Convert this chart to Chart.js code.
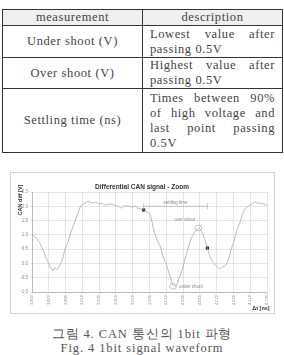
<!DOCTYPE html>
<html>
<head>
<meta charset="utf-8">
<script src="https://cdn.jsdelivr.net/npm/chart.js@4.4.1/dist/chart.umd.min.js"></script>
<style>
    body { margin: 0; width: 284px; height: 355px; overflow: hidden; background: #fff; position: relative; font-family: "Liberation Serif", serif; color: #444; }
    table.spec { position: absolute; left: 2px; top: 9px; width: 281px; border-collapse: collapse; font-size: 12.5px; letter-spacing: 0.6px; }
    table.spec td, table.spec th { border: 1px solid #333; padding: 0 7px; font-weight: normal; line-height: 15px; }
    table.spec th { background: #efefef; height: 15px; }
    table.spec td.name { text-align: center; width: 125px; }
    table.spec td.desc { text-align: justify; }
    .jl { display: block; text-align: justify; text-align-last: justify; }
    .chart-box { position: absolute; left: 10px; top: 172px; width: 265px; height: 142px; border: 1px solid #d4d4d4; box-sizing: border-box; }
    .caption { position: absolute; left: 0; width: 284px; text-align: center; font-size: 12.5px; color: #555; letter-spacing: 0.9px; }
</style>
</head>
<body>
<table class="spec">
    <tr><th>measurement</th><th>description</th></tr>
    <tr style="height:32px"><td class="name">Under shoot (V)</td><td class="desc"><span class="jl">Lowest value after</span>passing 0.5V</td></tr>
    <tr style="height:31px"><td class="name">Over shoot (V)</td><td class="desc"><span class="jl">Highest value after</span>passing 0.5V</td></tr>
    <tr style="height:64px"><td class="name">Settling time (ns)</td><td class="desc"><span class="jl">Times between 90%</span><span class="jl">of high voltage and</span><span class="jl">last point passing</span>0.5V</td></tr>
</table>

<div class="chart-box"><canvas id="canChart" width="263" height="140"></canvas></div>

<div class="caption" style="top:326px">그림 4. CAN 통신의 1bit 파형</div>
<div class="caption" style="top:341px">Fig. 4 1bit signal waveform</div>

<script>
// Waveform samples
const timeNs = [3850, 3855, 3860, 3864, 3868, 3871, 3874, 3875, 3877, 3880, 3882, 3886, 3889, 3893, 3896, 3900, 3904, 3906, 3908, 3911, 3913, 3917, 3919, 3923, 3926, 3930, 3933, 3938, 3943, 3948, 3952, 3956, 3960, 3964, 3969, 3973, 3976, 3980, 3983, 3987, 3991, 3993, 3995, 3999, 4003, 4006, 4010, 4012, 4016, 4018, 4020, 4023, 4025, 4029, 4032, 4036, 4039, 4043, 4047, 4049, 4051, 4054, 4056, 4059, 4061, 4064, 4068, 4072, 4074, 4076, 4080, 4084, 4087, 4091, 4094, 4098, 4101, 4105, 4109, 4112, 4116, 4119, 4123, 4126, 4130];
const diffVolts = [1.02, 0.89, 0.68, 0.40, 0.12, -0.09, -0.23, -0.27, -0.16, -0.20, -0.13, 0.12, 0.47, 0.75, 1.06, 1.38, 1.69, 1.87, 2.01, 2.08, 2.11, 2.18, 2.15, 2.11, 2.15, 2.08, 2.11, 2.04, 2.08, 2.04, 2.01, 1.94, 2.01, 2.01, 1.97, 2.01, 1.94, 1.90, 1.87, 1.80, 1.69, 1.45, 1.17, 0.82, 0.57, 0.26, -0.02, -0.23, -0.58, -0.76, -0.80, -0.73, -0.52, -0.23, 0.12, 0.54, 0.82, 1.06, 1.20, 1.24, 1.17, 0.99, 0.82, 0.54, 0.33, 0.12, -0.05, -0.16, -0.20, -0.13, -0.09, 0.12, 0.47, 0.82, 1.17, 1.45, 1.73, 1.94, 2.04, 2.08, 2.15, 2.11, 2.11, 2.08, 2.04];

// Settling time start / end points (black markers)
const markerNs = [3983, 4059];
const markerVolts = [1.87, 0.54];

// Axis ticks
const xTicks = [3850, 3870, 3890, 3910, 3930, 3950, 3970, 3990, 4010, 4030, 4050, 4070, 4090, 4110, 4130];
const yTicks = [-1.0, -0.5, 0.0, 0.5, 1.0, 1.5, 2.0, 2.5];

// Annotations: settling time bar, over/under shoot circles
const settleFrom = 3983, settleTo = 4059, settleLevel = 2.0;
const overShoot = { x: 4048, y: 1.24 };
const underShoot = { x: 4018, y: -0.80 };

const trace = timeNs.map((t, i) => ({ x: t, y: diffVolts[i] }));
const markers = markerNs.map((t, i) => ({ x: t, y: markerVolts[i] }));

// Draws title, axis titles and the little notes on top of the plot
const notesPlugin = {
    id: 'notes',
    afterDraw(chart) {
        const ctx = chart.ctx;
        const xs = chart.scales.x, ys = chart.scales.y;
        ctx.save();

        ctx.fillStyle = '#333';
        ctx.textAlign = 'center';
        ctx.textBaseline = 'middle';
        ctx.font = 'bold 6.5px "Liberation Sans"';
        ctx.fillText('Differential CAN signal - Zoom', 131, 14);

        ctx.font = 'bold 5.5px "Liberation Sans"';
        ctx.fillText('\u0394t [ns]', 250, 135);

        ctx.save();
        ctx.translate(9, 27);
        ctx.rotate(-Math.PI / 2);
        ctx.fillText('CAN diff [V]', 0, 0);
        ctx.restore();

        // settling time bar
        const x1 = xs.getPixelForValue(settleFrom), x2 = xs.getPixelForValue(settleTo);
        const yl = ys.getPixelForValue(settleLevel);
        ctx.strokeStyle = '#aaa';
        ctx.lineWidth = 0.6;
        ctx.beginPath();
        ctx.moveTo(x1, yl); ctx.lineTo(x2, yl);
        ctx.moveTo(x1, yl - 3); ctx.lineTo(x1, yl + 3);
        ctx.moveTo(x2, yl - 3); ctx.lineTo(x2, yl + 3);
        ctx.stroke();

        ctx.fillStyle = '#888';
        ctx.font = '4.5px "Liberation Sans"';
        ctx.fillText('settling time', (x1 + x2) / 2, yl - 4);
        ctx.fillText('over shoot', xs.getPixelForValue(4032), ys.getPixelForValue(1.52));
        ctx.textAlign = 'left';
        ctx.fillText('under shoot', xs.getPixelForValue(4025), ys.getPixelForValue(-0.82));

        // shoot circles
        ctx.strokeStyle = '#999';
        [overShoot, underShoot].forEach(p => {
            ctx.beginPath();
            ctx.ellipse(xs.getPixelForValue(p.x), ys.getPixelForValue(p.y), 3.5, 2.8, 0, 0, Math.PI * 2);
            ctx.stroke();
        });
        ctx.restore();
    }
};

const ctx = document.getElementById('canChart').getContext('2d');
new Chart(ctx, {
    type: 'line',
    data: {
        datasets: [{
            data: trace,
            borderColor: '#a8a8a8',
            borderWidth: 0.8,
            pointRadius: 0,
            tension: 0.2,
            fill: false
        }, {
            data: markers,
            showLine: false,
            pointStyle: 'rect',
            pointRadius: 1.6,
            pointBackgroundColor: '#222',
            pointBorderColor: '#222'
        }]
    },
    options: {
        responsive: false,
        animation: false,
        layout: { padding: { top: 19, right: 7, bottom: 0, left: 0 } },
        plugins: { legend: { display: false }, title: { display: false }, tooltip: { enabled: false } },
        scales: {
            x: {
                type: 'linear',
                min: xTicks[0],
                max: xTicks[xTicks.length - 1],
                afterFit(s) { s.height = 21; },
                afterBuildTicks(s) { s.ticks = xTicks.map(v => ({ value: v })); },
                grid: { color: '#d4d4d4', lineWidth: 0.6, tickLength: 2 },
                border: { color: '#bbb' },
                ticks: { autoSkip: false, minRotation: 90, maxRotation: 90, color: '#888', font: { size: 4, family: 'Liberation Sans' }, padding: 1 }
            },
            y: {
                min: yTicks[0],
                max: yTicks[yTicks.length - 1],
                afterFit(s) { s.width = 21; },
                afterBuildTicks(s) { s.ticks = yTicks.map(v => ({ value: v })); },
                grid: { color: '#d4d4d4', lineWidth: 0.6, tickLength: 2 },
                border: { color: '#bbb' },
                ticks: { color: '#888', font: { size: 4.5, family: 'Liberation Sans' }, padding: 2, callback: v => v.toFixed(1) }
            }
        }
    },
    plugins: [notesPlugin]
});
</script>
</body>
</html>
